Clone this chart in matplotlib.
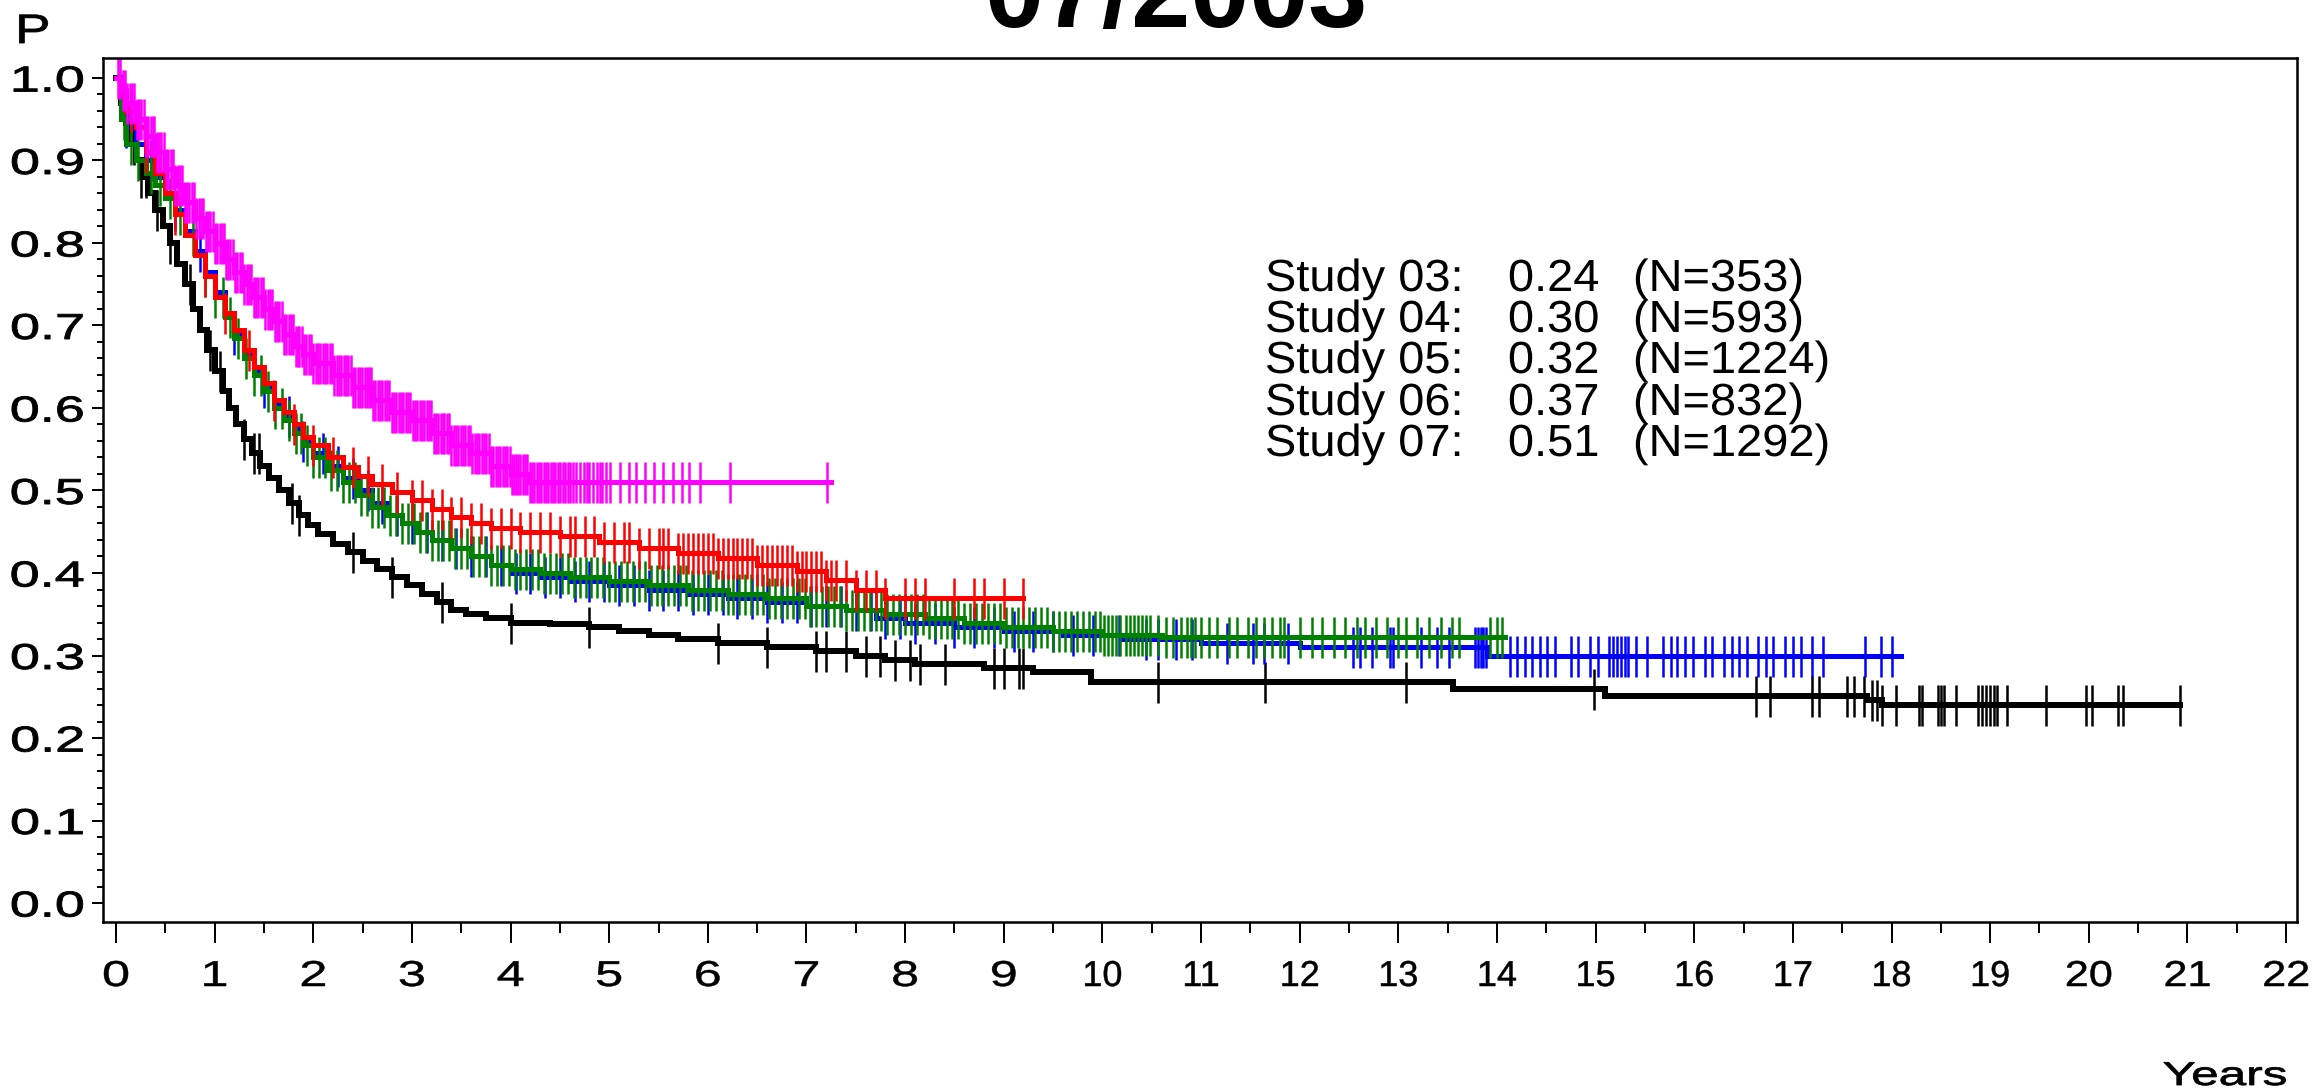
import numpy as np
import matplotlib
matplotlib.use("Agg")
import matplotlib.pyplot as plt
from matplotlib.patheffects import AbstractPathEffect
from matplotlib.transforms import Affine2D

W, H, DPI = 2318, 1092, 100

# ---------------------------------------------------------------- data
study_names = ["Study 03:", "Study 04:", "Study 05:", "Study 06:", "Study 07:"]
study_rates = ["0.24", "0.30", "0.32", "0.37", "0.51"]
study_sizes = ["(N=353)", "(N=593)", "(N=1224)", "(N=832)", "(N=1292)"]
study_colors = ["black", "#0000ff", "#008000", "#ff0000", "#ff00ff"]

# Study 03
s03_time = [0.00, 0.05, 0.10, 0.15, 0.20, 0.25, 0.32, 0.40, 0.48, 0.55, 0.62, 0.70, 0.78,
            0.85, 0.92, 1.00, 1.08, 1.15, 1.22, 1.30, 1.38, 1.46, 1.55, 1.65, 1.75, 1.85,
            1.95, 2.05, 2.20, 2.35, 2.50, 2.65, 2.80, 2.95, 3.10, 3.25, 3.40, 3.55, 3.75,
            4.00, 4.40, 4.80, 5.10, 5.40, 5.70, 6.10, 6.60, 7.10, 7.50, 7.80, 8.10, 8.80,
            9.30, 9.88, 13.55, 15.10, 17.75, 17.90]
s03_surv = [1.000, 0.970, 0.945, 0.920, 0.900, 0.880, 0.860, 0.840, 0.820, 0.800, 0.775,
            0.750, 0.720, 0.695, 0.670, 0.645, 0.620, 0.600, 0.580, 0.562, 0.545, 0.530,
            0.515, 0.500, 0.485, 0.470, 0.458, 0.447, 0.435, 0.425, 0.415, 0.405, 0.395,
            0.385, 0.375, 0.365, 0.355, 0.350, 0.345, 0.340, 0.338, 0.335, 0.330, 0.325,
            0.320, 0.315, 0.310, 0.305, 0.300, 0.295, 0.290, 0.285, 0.280, 0.268, 0.259,
            0.251, 0.246, 0.240]
s03_last = 20.92
s03_cens = [0.12, 0.18, 0.25, 0.30, 0.42, 0.55, 0.75, 0.95, 1.05, 1.30, 1.40, 1.45, 1.78,
            1.85, 2.40, 2.80, 3.30, 4.00, 4.80, 6.10, 6.60, 7.10, 7.20, 7.40, 7.60, 7.75,
            7.90, 8.05, 8.15, 8.40, 8.90, 9.00, 9.15, 9.20, 10.56, 11.65, 13.08, 14.98,
            16.63, 16.77, 17.19, 17.27, 17.55, 17.62, 17.72, 17.80, 17.85, 17.90, 18.05,
            18.28, 18.31, 18.47, 18.50, 18.53, 18.65, 18.88, 18.92, 18.96, 19.00, 19.04,
            19.07, 19.17, 19.57, 19.97, 20.03, 20.30, 20.35, 20.92]

# Study 04
s04_time = [0.00, 0.05, 0.10, 0.20, 0.30, 0.40, 0.50, 0.60, 0.70, 0.80, 0.90, 1.00, 1.10,
            1.20, 1.30, 1.40, 1.50, 1.60, 1.70, 1.80, 1.90, 2.00, 2.15, 2.30, 2.45, 2.60,
            2.75, 2.90, 3.05, 3.20, 3.40, 3.60, 3.80, 4.00, 4.30, 4.60, 5.00, 5.40, 5.80,
            6.20, 6.60, 7.00, 7.40, 7.70, 8.00, 8.50, 9.00, 9.60, 10.20, 11.00, 12.00, 13.90]
s04_surv = [1.000, 0.960, 0.940, 0.920, 0.900, 0.880, 0.860, 0.840, 0.815, 0.790, 0.765,
            0.740, 0.715, 0.690, 0.665, 0.645, 0.625, 0.605, 0.590, 0.575, 0.560, 0.545,
            0.530, 0.515, 0.500, 0.485, 0.470, 0.460, 0.450, 0.440, 0.430, 0.420, 0.410,
            0.400, 0.395, 0.390, 0.385, 0.380, 0.375, 0.370, 0.365, 0.360, 0.355, 0.345,
            0.340, 0.335, 0.330, 0.325, 0.320, 0.315, 0.310, 0.300]
s04_last = 18.10
s04_cens = [0.10, 0.35, 0.60, 0.85, 1.20, 1.50, 1.75, 1.90, 2.10, 2.25, 2.40, 2.55, 2.70,
            2.85, 3.00, 3.15, 3.30, 3.45, 3.60, 3.75, 3.90, 4.05, 4.20, 4.35, 4.50, 4.65,
            4.80, 4.95, 5.10, 5.25, 5.40, 5.55, 5.70, 5.85, 6.00, 6.15, 6.30, 6.45, 6.60,
            6.75, 6.90, 7.05, 7.20, 7.35, 7.50, 7.65, 7.80, 7.95, 8.10, 8.30, 8.50, 8.70,
            8.90, 9.10, 9.30, 9.50, 9.70, 9.90, 10.17, 10.44, 10.56, 10.75, 10.91, 11.26,
            11.53, 11.64, 11.88, 12.54, 12.61, 12.73, 12.92, 12.95, 13.23, 13.39, 13.51,
            13.78, 13.81, 13.84, 13.86, 13.89, 14.13, 14.20, 14.28, 14.36, 14.44, 14.51,
            14.59, 14.75, 14.82, 14.94, 15.02, 15.14, 15.18, 15.22, 15.26, 15.30, 15.33,
            15.41, 15.52, 15.68, 15.76, 15.83, 15.91, 15.99, 16.11, 16.18, 16.30, 16.38,
            16.45, 16.53, 16.65, 16.73, 16.80, 16.92, 17.00, 17.08, 17.19, 17.31, 17.73,
            17.89, 18.00]

# Study 05
s05_time = [0.00, 0.05, 0.10, 0.20, 0.30, 0.40, 0.50, 0.60, 0.70, 0.80, 0.90, 1.00, 1.10,
            1.20, 1.30, 1.40, 1.50, 1.60, 1.70, 1.80, 1.90, 2.00, 2.15, 2.30, 2.45, 2.60,
            2.75, 2.90, 3.05, 3.20, 3.40, 3.60, 3.80, 4.00, 4.30, 4.60, 5.00, 5.40, 5.80,
            6.20, 6.60, 7.00, 7.40, 7.80, 8.20, 8.60, 9.00, 9.50, 10.00, 10.60]
s05_surv = [1.000, 0.950, 0.920, 0.900, 0.885, 0.870, 0.855, 0.835, 0.810, 0.785, 0.760,
            0.735, 0.710, 0.685, 0.660, 0.640, 0.620, 0.600, 0.585, 0.570, 0.555, 0.540,
            0.525, 0.510, 0.495, 0.480, 0.470, 0.460, 0.450, 0.440, 0.430, 0.420, 0.410,
            0.405, 0.400, 0.395, 0.390, 0.385, 0.380, 0.375, 0.370, 0.360, 0.355, 0.350,
            0.345, 0.340, 0.335, 0.330, 0.325, 0.322]
s05_last = 14.08
s05_cens = [0.08, 0.15, 0.22, 0.35, 0.45, 0.55, 0.65, 0.78, 0.90, 1.00, 1.08, 1.16, 1.24,
            1.32, 1.40, 1.47, 1.54, 1.61, 1.68, 1.75, 1.82, 1.88, 1.94, 2.00, 2.06, 2.12,
            2.18, 2.24, 2.30, 2.36, 2.42, 2.48, 2.54, 2.60, 2.66, 2.72, 2.78, 2.84, 2.90,
            2.96, 3.02, 3.08, 3.14, 3.20, 3.26, 3.32, 3.38, 3.44, 3.50, 3.56, 3.62, 3.68,
            3.74, 3.80, 3.86, 3.92, 3.98, 4.04, 4.10, 4.16, 4.22, 4.28, 4.34, 4.40, 4.46,
            4.52, 4.58, 4.64, 4.70, 4.76, 4.82, 4.88, 4.94, 5.00, 5.06, 5.12, 5.18, 5.24,
            5.30, 5.36, 5.42, 5.48, 5.54, 5.60, 5.66, 5.72, 5.78, 5.84, 5.90, 5.96, 6.02,
            6.08, 6.14, 6.20, 6.26, 6.32, 6.38, 6.44, 6.50, 6.56, 6.62, 6.68, 6.74, 6.80,
            6.86, 6.92, 6.98, 7.04, 7.10, 7.16, 7.22, 7.28, 7.34, 7.40, 7.46, 7.52, 7.58,
            7.64, 7.70, 7.76, 7.82, 7.88, 7.94, 8.00, 8.06, 8.12, 8.18, 8.24, 8.30, 8.36,
            8.42, 8.48, 8.54, 8.60, 8.66, 8.72, 8.78, 8.84, 8.90, 8.96, 9.02, 9.08, 9.14,
            9.20, 9.26, 9.32, 9.38, 9.44, 9.50, 9.56, 9.62, 9.68, 9.74, 9.80, 9.86, 9.92,
            9.98, 10.02, 10.06, 10.10, 10.14, 10.18, 10.24, 10.28, 10.32, 10.36, 10.40,
            10.44, 10.48, 10.56, 10.64, 10.72, 10.80, 10.86, 10.90, 10.94, 11.00, 11.08,
            11.16, 11.28, 11.36, 11.48, 11.56, 11.64, 11.72, 11.80, 11.84, 12.00, 12.12,
            12.23, 12.35, 12.46, 12.58, 12.66, 12.77, 12.89, 13.00, 13.08, 13.19, 13.31,
            13.43, 13.54, 13.62, 13.93, 14.00, 14.05]

# Study 06
s06_time = [0.00, 0.05, 0.10, 0.20, 0.30, 0.40, 0.50, 0.60, 0.70, 0.80, 0.90, 1.00, 1.10,
            1.20, 1.30, 1.40, 1.50, 1.60, 1.70, 1.80, 1.90, 2.00, 2.15, 2.30, 2.45, 2.60,
            2.80, 3.00, 3.20, 3.40, 3.60, 3.80, 4.10, 4.50, 4.90, 5.30, 5.70, 6.10, 6.50,
            6.90, 7.20, 7.50, 7.80]
s06_surv = [1.000, 0.980, 0.960, 0.940, 0.910, 0.885, 0.860, 0.835, 0.810, 0.785, 0.760,
            0.735, 0.715, 0.695, 0.670, 0.650, 0.630, 0.610, 0.595, 0.580, 0.565, 0.555,
            0.540, 0.528, 0.518, 0.508, 0.498, 0.488, 0.478, 0.468, 0.460, 0.455, 0.450,
            0.445, 0.438, 0.430, 0.424, 0.418, 0.410, 0.402, 0.392, 0.380, 0.370]
s06_last = 9.20
s06_cens = [0.15, 0.30, 0.60, 0.90, 1.10, 1.35, 1.60, 1.80, 2.00, 2.20, 2.40, 2.55, 2.70,
            2.85, 3.00, 3.10, 3.20, 3.30, 3.40, 3.50, 3.60, 3.70, 3.80, 3.90, 4.00, 4.10,
            4.20, 4.30, 4.40, 4.50, 4.60, 4.65, 4.75, 4.85, 4.95, 5.05, 5.15, 5.20, 5.30,
            5.40, 5.50, 5.55, 5.60, 5.70, 5.75, 5.80, 5.85, 5.90, 5.95, 6.00, 6.05, 6.10,
            6.15, 6.20, 6.25, 6.30, 6.35, 6.40, 6.45, 6.50, 6.55, 6.60, 6.65, 6.70, 6.75,
            6.80, 6.85, 6.90, 6.95, 7.00, 7.05, 7.10, 7.15, 7.20, 7.25, 7.30, 7.40, 7.50,
            7.60, 7.70, 7.80, 8.00, 8.10, 8.20, 8.50, 8.70, 8.80, 9.00, 9.20]

# Study 07
s07_time = [0.00, 0.05, 0.10, 0.20, 0.30, 0.40, 0.50, 0.60, 0.70, 0.80, 0.90, 1.00, 1.10,
            1.20, 1.30, 1.40, 1.50, 1.60, 1.70, 1.80, 1.90, 2.00, 2.20, 2.40, 2.60, 2.80,
            3.00, 3.20, 3.40, 3.60, 3.80, 4.00, 4.20]
s07_surv = [1.000, 0.985, 0.970, 0.950, 0.930, 0.910, 0.890, 0.870, 0.850, 0.830, 0.815,
            0.800, 0.780, 0.765, 0.750, 0.735, 0.720, 0.705, 0.690, 0.675, 0.665, 0.655,
            0.640, 0.625, 0.610, 0.595, 0.585, 0.570, 0.555, 0.545, 0.530, 0.520, 0.510]
s07_last = 7.25
s07_cens = [0.02, 0.04, 0.07, 0.09, 0.11, 0.14, 0.16, 0.18, 0.21, 0.23, 0.25, 0.28, 0.30,
            0.32, 0.35, 0.37, 0.39, 0.42, 0.44, 0.46, 0.49, 0.51, 0.53, 0.56, 0.58, 0.60,
            0.63, 0.65, 0.67, 0.70, 0.72, 0.74, 0.77, 0.79, 0.81, 0.84, 0.86, 0.88, 0.91,
            0.93, 0.95, 0.98, 1.00, 1.02, 1.05, 1.07, 1.09, 1.12, 1.14, 1.16, 1.19, 1.21,
            1.23, 1.26, 1.28, 1.30, 1.33, 1.35, 1.37, 1.40, 1.42, 1.44, 1.47, 1.49, 1.51,
            1.54, 1.56, 1.58, 1.61, 1.63, 1.65, 1.68, 1.70, 1.72, 1.75, 1.77, 1.79, 1.82,
            1.84, 1.86, 1.89, 1.91, 1.93, 1.96, 1.98, 2.00, 2.03, 2.05, 2.07, 2.10, 2.12,
            2.14, 2.17, 2.19, 2.21, 2.24, 2.26, 2.28, 2.31, 2.33, 2.35, 2.38, 2.40, 2.42,
            2.45, 2.47, 2.49, 2.52, 2.54, 2.56, 2.59, 2.61, 2.63, 2.66, 2.68, 2.70, 2.73,
            2.75, 2.77, 2.80, 2.82, 2.84, 2.87, 2.89, 2.91, 2.94, 2.96, 2.98, 3.01, 3.03,
            3.05, 3.08, 3.10, 3.12, 3.15, 3.17, 3.19, 3.22, 3.24, 3.26, 3.29, 3.31, 3.33,
            3.36, 3.38, 3.40, 3.43, 3.45, 3.47, 3.50, 3.52, 3.54, 3.57, 3.59, 3.61, 3.64,
            3.66, 3.68, 3.71, 3.73, 3.75, 3.78, 3.80, 3.82, 3.85, 3.87, 3.89, 3.92, 3.94,
            3.96, 3.99, 4.01, 4.03, 4.06, 4.08, 4.10, 4.13, 4.15, 4.17, 4.20, 4.22, 4.24,
            4.27, 4.29, 4.31, 4.34, 4.36, 4.38, 4.41, 4.43, 4.45, 4.48, 4.50, 4.53, 4.55,
            4.58, 4.60, 4.63, 4.66, 4.70, 4.74, 4.77, 4.80, 4.84, 4.88, 4.91, 4.93, 4.97,
            5.01, 5.11, 5.20, 5.27, 5.36, 5.45, 5.55, 5.65, 5.74, 5.81, 5.92, 6.22, 7.21]

studies = [
    (s03_time, s03_surv, s03_last, s03_cens),
    (s04_time, s04_surv, s04_last, s04_cens),
    (s05_time, s05_surv, s05_last, s05_cens),
    (s06_time, s06_surv, s06_last, s06_cens),
    (s07_time, s07_surv, s07_last, s07_cens),
]

x_ticks = list(range(0, 23))
y_ticks = [0.0, 0.1, 0.2, 0.3, 0.4, 0.5, 0.6, 0.7, 0.8, 0.9, 1.0]
y_labels = ["0.0", "0.1", "0.2", "0.3", "0.4", "0.5", "0.6", "0.7", "0.8", "0.9", "1.0"]


# ---------------------------------------------------------------- helpers
class WideGlyphs(AbstractPathEffect):
    """Draw text glyphs widened horizontally about the aligned edge,
    optionally with a thin outline to give them more weight."""

    def __init__(self, sx, anchor="left", stroke=0.0):
        super().__init__()
        self.sx = sx
        self.anchor = anchor
        self.stroke = stroke

    def draw_path(self, renderer, gc, tpath, affine, rgbFace=None):
        ext = tpath.get_extents()
        if self.anchor == "right":
            a = ext.x1
        elif self.anchor == "center":
            a = 0.5 * (ext.x0 + ext.x1)
        else:
            a = ext.x0
        widen = Affine2D().translate(-a, 0).scale(self.sx, 1.0).translate(a, 0)
        gc0 = renderer.new_gc()
        gc0.copy_properties(gc)
        if self.stroke > 0 and rgbFace is not None:
            gc0.set_linewidth(self.stroke)
            gc0.set_foreground(rgbFace)
        renderer.draw_path(gc0, tpath, widen + affine, rgbFace)
        gc0.restore()


def px(v):
    """pixels -> points"""
    return v * 72.0 / DPI


def fx(x):
    return x / W


def fy(y):
    return 1.0 - y / H


def surv_at(times, surv, t):
    idx = np.searchsorted(np.asarray(times), np.asarray(t), side="right") - 1
    return np.asarray(surv)[np.clip(idx, 0, len(surv) - 1)]


# ---------------------------------------------------------------- figure
fig = plt.figure(figsize=(W / DPI, H / DPI), dpi=DPI)
fig.patch.set_facecolor("white")

ax_l, ax_r, ax_t, ax_b = 103, 2297, 58, 922
ax = fig.add_axes([fx(ax_l), fy(ax_b), (ax_r - ax_l) / W, (ax_b - ax_t) / H])

line_px = [6.0, 5.0, 5.0, 5.0, 5.0]
for (t, s, last, cens), col, lw in zip(studies, study_colors, line_px):
    tt = list(t) + [last]
    ss = list(s) + [s[-1]]
    ax.step(tt, ss, where="post", color=col, lw=px(lw), solid_joinstyle="miter",
            zorder=2)
    ax.plot(cens, surv_at(t, s, cens), ls="none", marker="|", ms=px(41),
            mew=px(2.5), color=col, zorder=2)

ax.set_xlim(-0.132, 22.111)
ax.set_ylim(-0.023, 1.0242)

ax.set_xticks(x_ticks)
ax.set_xticklabels([str(v) for v in x_ticks])
ax.set_xticks([v + 0.5 for v in x_ticks[:-1]], minor=True)
ax.set_yticks(y_ticks)
ax.set_yticklabels(y_labels)
ax.set_yticks(np.linspace(0, 1, 51), minor=True)

for side in ["top", "bottom", "left", "right"]:
    ax.spines[side].set_linewidth(px(2.5))
    ax.spines[side].set_color("black")

ax.tick_params(axis="x", which="major", direction="out", length=px(21), width=px(2),
               pad=px(16), labelsize=px(36), colors="black")
ax.tick_params(axis="x", which="minor", direction="out", length=px(11), width=px(2))
ax.tick_params(axis="y", which="major", direction="out", length=px(11), width=px(2),
               pad=px(8), labelsize=px(36), colors="black")
ax.tick_params(axis="y", which="minor", direction="out", length=px(6), width=px(2))

for lab in ax.get_xticklabels():
    lab.set_fontfamily("Liberation Sans")
    txt = lab.get_text()
    if len(txt) == 1:
        sx = 1.4
    elif txt.startswith("1"):
        sx = 1.0
    else:
        sx = 1.2
    lab.set_path_effects([WideGlyphs(sx, "center", stroke=px(0.5))])
for lab in ax.get_yticklabels():
    lab.set_fontfamily("Liberation Sans")
    lab.set_path_effects([WideGlyphs(1.5, "right", stroke=px(0.9))])

# axis captions
fig.text(fx(16), fy(43), "P", fontsize=px(41), family="Liberation Sans",
         ha="left", va="baseline", path_effects=[WideGlyphs(1.3, "left", stroke=px(0.8))])
fig.text(fx(2163), fy(1085), "Years", fontsize=px(33), family="Liberation Sans",
         ha="left", va="baseline", path_effects=[WideGlyphs(1.5, "left", stroke=px(0.8))])

# title
fig.text(fx(1176), fy(27), "07/2003", fontsize=px(106), family="Liberation Sans",
         weight="bold", ha="center", va="baseline")

# study summary block
row_base = [291, 332, 373, 415, 456]
col_x = [1265, 1508, 1633]
for name, rate, size, yb in zip(study_names, study_rates, study_sizes, row_base):
    for xx, txt in zip(col_x, (name, rate, size)):
        fig.text(fx(xx), fy(yb), txt, fontsize=px(45), family="Liberation Sans",
                 ha="left", va="baseline", path_effects=[WideGlyphs(1.045, "left")])

fig.savefig("out.png", dpi=DPI, facecolor="white")
